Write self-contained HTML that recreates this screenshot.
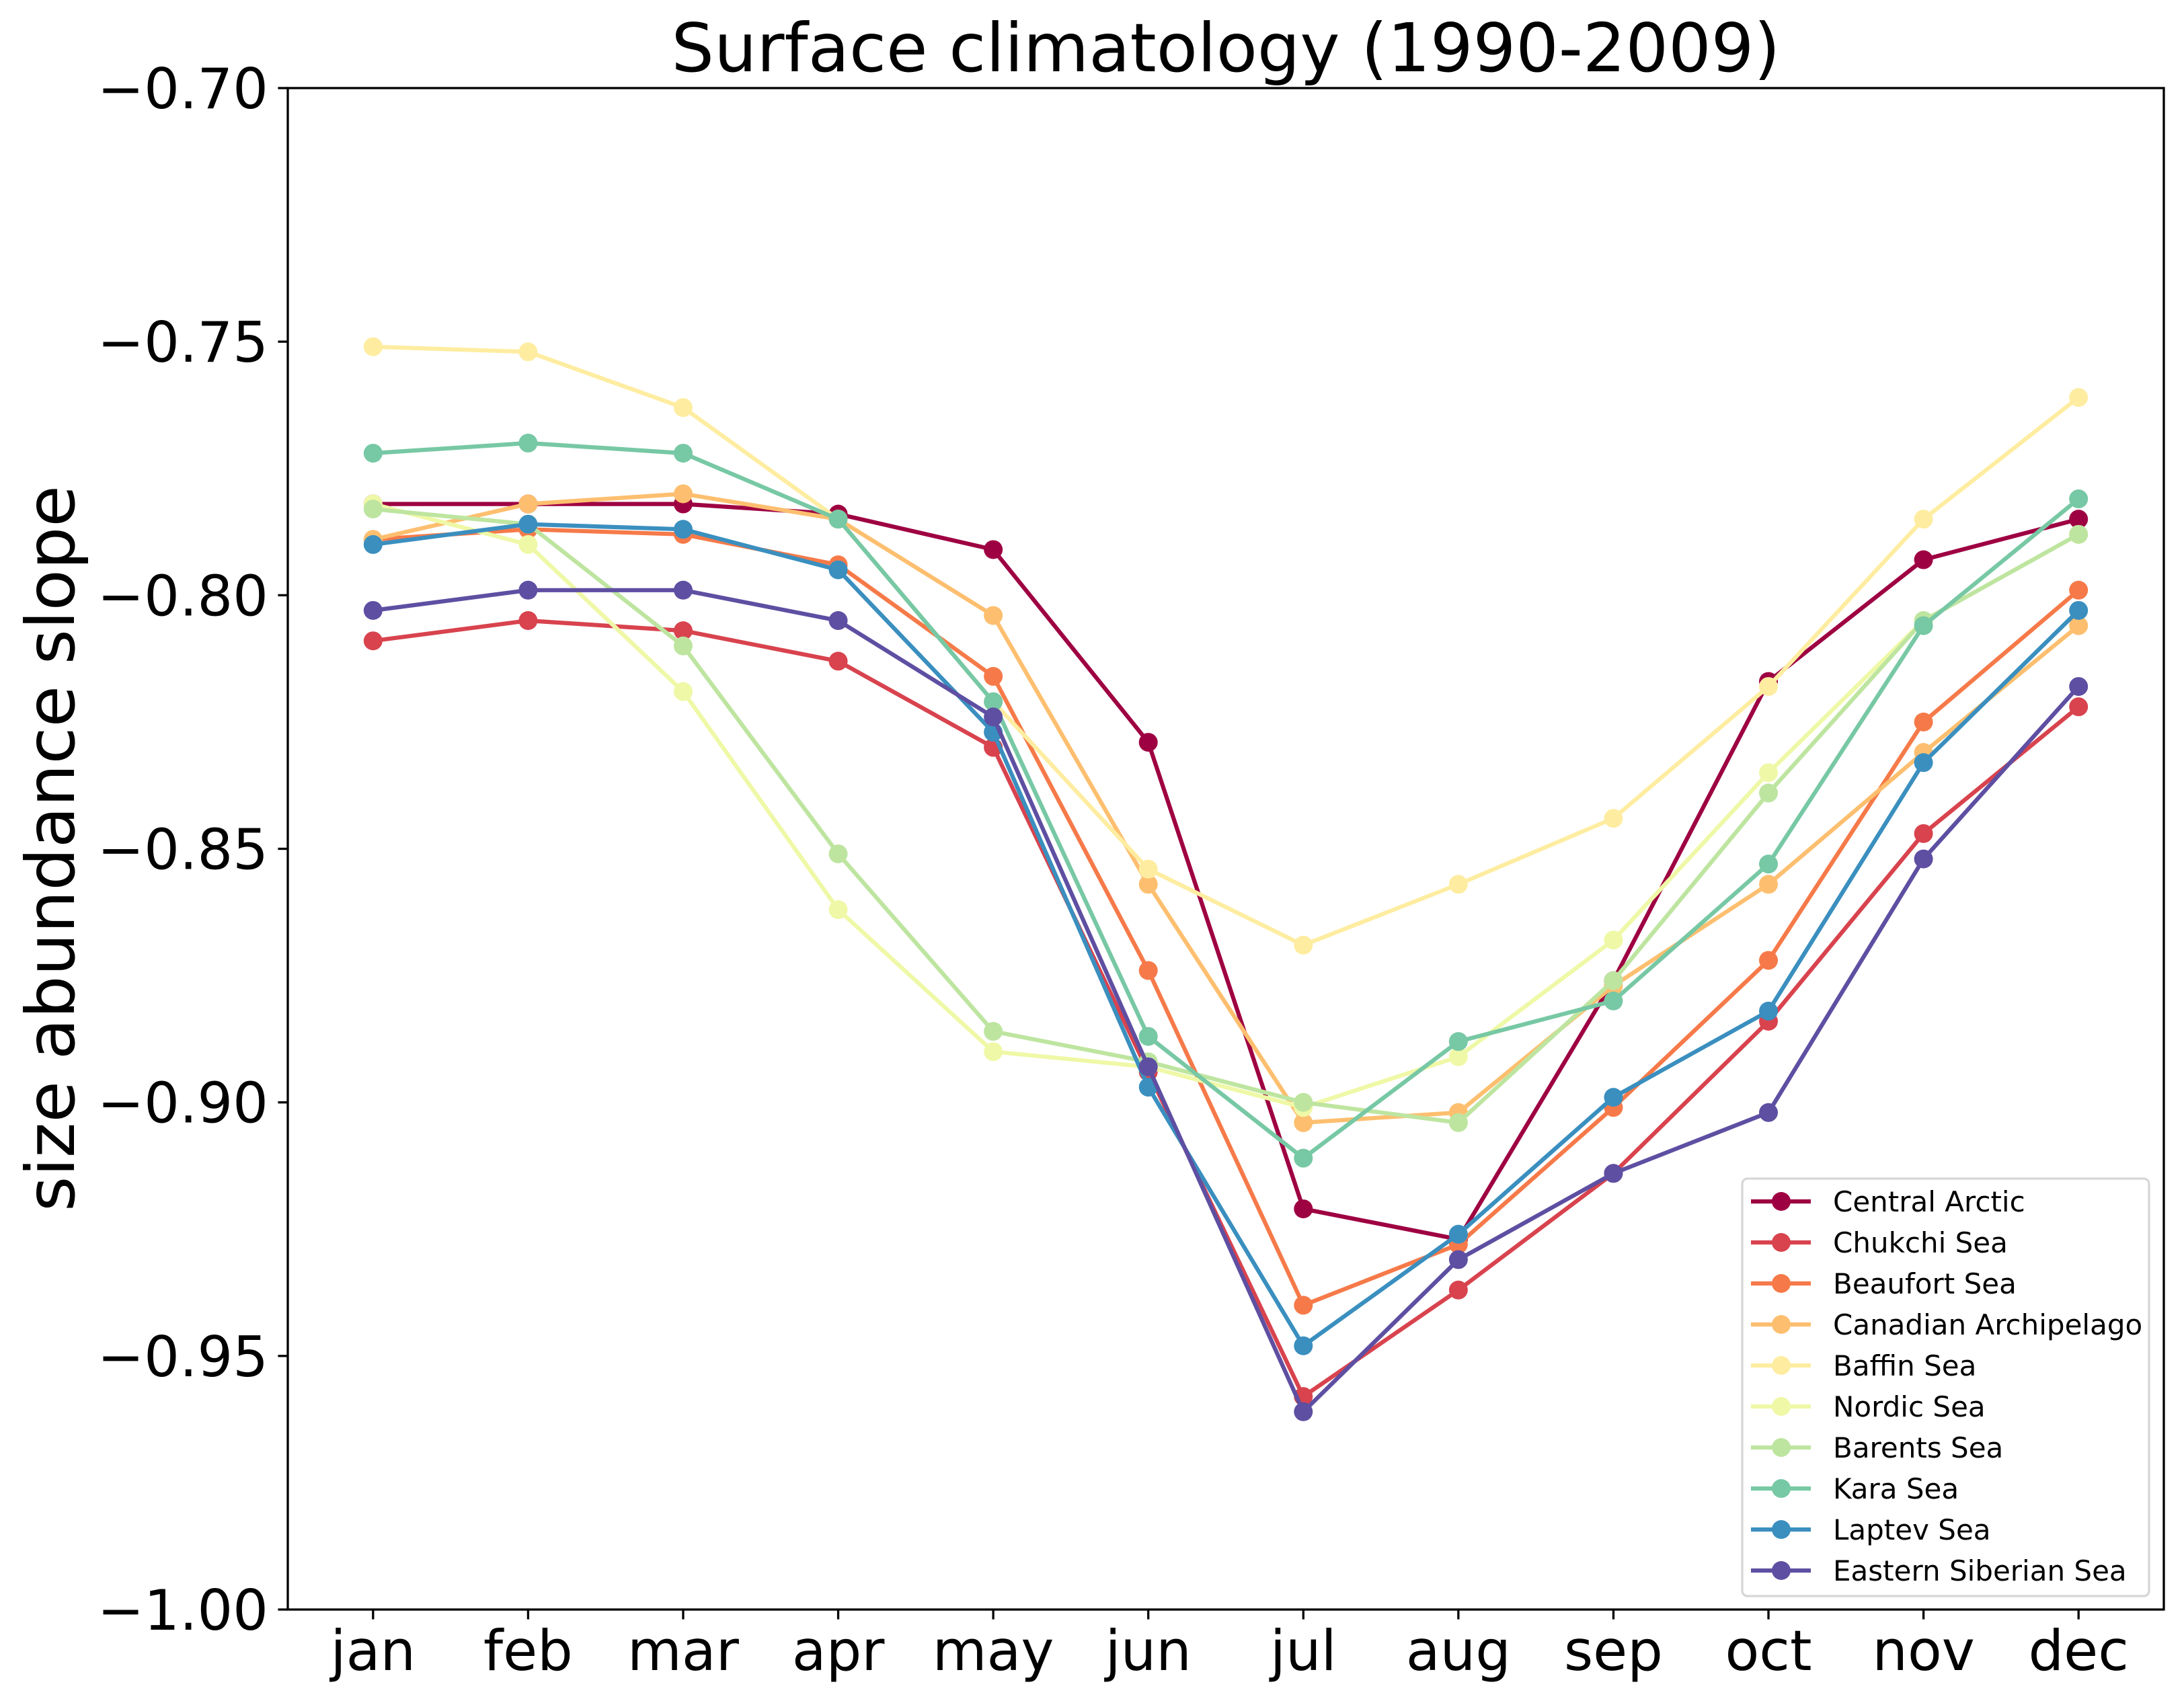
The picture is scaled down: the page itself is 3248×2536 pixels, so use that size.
<!DOCTYPE html>
<html><head><meta charset="utf-8"><style>
html,body{margin:0;padding:0;background:#fff;}
svg{display:block;font-family:"DejaVu Sans","Liberation Sans",sans-serif;}
</style></head><body>
<svg id="chart" width="3248" height="2536" viewBox="0 0 3248 2536" xmlns="http://www.w3.org/2000/svg">
<rect width="3248" height="2536" fill="#fff"/>
<text x="1823" y="106" font-size="100" text-anchor="middle">Surface climatology (1990-2009)</text>
<text transform="translate(110,1262) rotate(-90)" font-size="100" text-anchor="middle">size abundance slope</text>
<g id="plot"></g>
<g id="legend"></g>
</svg>
<script>
const months = ["jan","feb","mar","apr","may","jun","jul","aug","sep","oct","nov","dec"];
const seriesNames = ["Central Arctic","Chukchi Sea","Beaufort Sea","Canadian Archipelago","Baffin Sea","Nordic Sea","Barents Sea","Kara Sea","Laptev Sea","Eastern Siberian Sea"];
const seriesColors = ["#9e0142","#d8434e","#f67a49","#fdbf6f","#feeda1","#eff8a6","#bee5a0","#77c8a4","#3a8fbf","#5e4fa2"];
const centralArctic = [-0.782,-0.782,-0.782,-0.784,-0.791,-0.829,-0.921,-0.927,-0.876,-0.817,-0.793,-0.785];
const chukchiSea = [-0.809,-0.805,-0.807,-0.813,-0.830,-0.894,-0.958,-0.937,-0.914,-0.884,-0.847,-0.822];
const beaufortSea = [-0.789,-0.787,-0.788,-0.794,-0.816,-0.874,-0.940,-0.928,-0.901,-0.872,-0.825,-0.799];
const canadianArchipelago = [-0.789,-0.782,-0.780,-0.785,-0.804,-0.857,-0.904,-0.902,-0.877,-0.857,-0.831,-0.806];
const baffinSea = [-0.751,-0.752,-0.763,-0.785,-0.821,-0.854,-0.869,-0.857,-0.844,-0.818,-0.785,-0.761];
const nordicSea = [-0.782,-0.790,-0.819,-0.862,-0.890,-0.893,-0.901,-0.891,-0.868,-0.835,-0.805,-0.788];
const barentsSea = [-0.783,-0.786,-0.810,-0.851,-0.886,-0.892,-0.900,-0.904,-0.876,-0.839,-0.805,-0.788];
const karaSea = [-0.772,-0.770,-0.772,-0.785,-0.821,-0.887,-0.911,-0.888,-0.880,-0.853,-0.806,-0.781];
const laptevSea = [-0.790,-0.786,-0.787,-0.795,-0.827,-0.897,-0.948,-0.926,-0.899,-0.882,-0.833,-0.803];
const easternSiberianSea = [-0.803,-0.799,-0.799,-0.805,-0.824,-0.893,-0.961,-0.931,-0.914,-0.902,-0.852,-0.818];
const yTicks = [-0.70,-0.75,-0.80,-0.85,-0.90,-0.95,-1.00];
const yTickLabels = ["\u22120.70","\u22120.75","\u22120.80","\u22120.85","\u22120.90","\u22120.95","\u22121.00"];
const allSeries = [centralArctic,chukchiSea,beaufortSea,canadianArchipelago,baffinSea,nordicSea,barentsSea,karaSea,laptevSea,easternSiberianSea];

const NS="http://www.w3.org/2000/svg";
const L=428,R=3218,T=131,B=2394;
const yMin=-1.0,yMax=-0.70;
const unit=(R-L)/(months.length-1+1.1);
function xs(i){return L+(0.55+i)*unit;}
function ys(v){return B-(v-yMin)/(yMax-yMin)*(B-T);}
function mk(tag,attrs,parent){const e=document.createElementNS(NS,tag);for(const k in attrs)e.setAttribute(k,attrs[k]);parent.appendChild(e);return e;}
const plot=document.getElementById('plot');
const svg=document.getElementById('chart');

allSeries.forEach((vals,si)=>{
  const g=mk('g',{},plot);
  
  
  const pts=vals.map((v,i)=>xs(i).toFixed(1)+','+ys(v).toFixed(1)).join(' ');
  const pl=mk('polyline',{points:pts,fill:'none',stroke:seriesColors[si],'stroke-width':6.2,'stroke-linejoin':'round'},g);
  
  
  vals.forEach((v,i)=>{
    const c=mk('circle',{cx:xs(i),cy:ys(v),r:14,fill:seriesColors[si]},g);
    
    
  });
});

const frame=mk('rect',{x:L,y:T,width:R-L,height:B-T,fill:'none',stroke:'#000','stroke-width':3.3},svg);



yTicks.forEach((v,i)=>{
  const y=ys(v);
  const t=mk('line',{x1:L-14.6,x2:L,y1:y,y2:y,stroke:'#000','stroke-width':3.3},svg);
  
  
  const tx=mk('text',{x:L-29,y:y+30,'font-size':83,'text-anchor':'end'},svg);
  tx.textContent=yTickLabels[i];
  
  
});
months.forEach((m,i)=>{
  const x=xs(i);
  const t=mk('line',{x1:x,x2:x,y1:B,y2:B+14.6,stroke:'#000','stroke-width':3.3},svg);
  
  
  const tx=mk('text',{x:x,y:B+90,'font-size':83,'text-anchor':'middle'},svg);
  tx.textContent=m;
  
  
});

const lg=document.getElementById('legend');
const box=mk('rect',{x:2591,y:1753,width:605,height:621,rx:8,fill:'#fff','fill-opacity':0.8,stroke:'#d6d6d6','stroke-width':3.3},lg);


seriesNames.forEach((n,i)=>{
  const y=1787+i*61;
  const g=mk('g',{},lg);
  
  
  mk('line',{x1:2604,x2:2693,y1:y,y2:y,stroke:seriesColors[i],'stroke-width':6.2},g);
  mk('circle',{cx:2649,cy:y,r:14,fill:seriesColors[i]},g);
  const tx=mk('text',{x:2726,y:y+15,'font-size':42},g);
  tx.textContent=n;
  
  
});
</script>
</body></html>
